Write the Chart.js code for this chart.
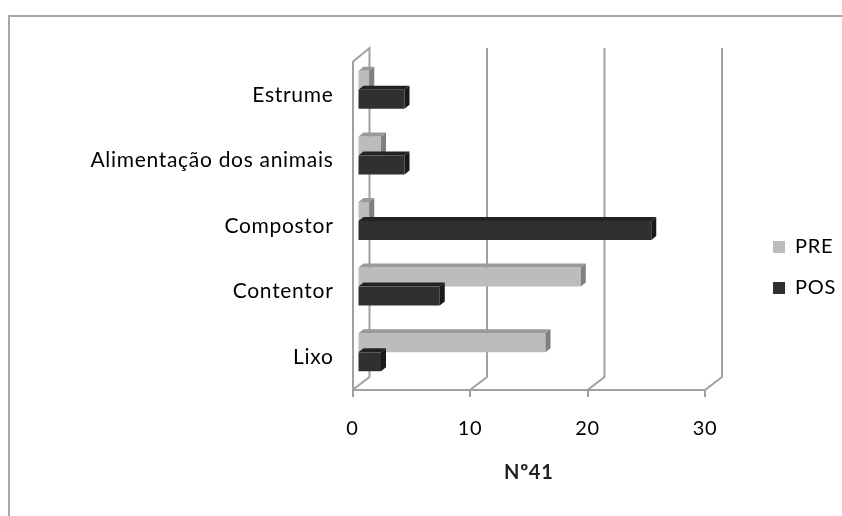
<!DOCTYPE html>
<html>
<head>
<meta charset="utf-8">
<style>
  html, body { margin: 0; padding: 0; background: #fff; }
  canvas { display: block; filter: blur(0.4px); }
</style>
<script src="https://cdn.jsdelivr.net/npm/chart.js@4"></script>
</head>
<body>
<canvas id="chart" width="842" height="516"></canvas>
<script>
const categories = ['Estrume', 'Alimentação dos animais', 'Compostor', 'Contentor', 'Lixo'];
const preValues = [1, 2, 1, 19, 16];
const posValues = [4, 4, 25, 7, 2];
const axisTitle = 'Nº41';

const lineGrey = '#a0a0a0';
const depthX = 17, depthY = 13;   // wall depth
const barDX = 5, barDY = -5;      // bars sit a little inside the walls
const faceX = 5, faceY = 4;       // bar top and end faces

const faces = [
  { top: '#9a9a9a', side: '#7f7f7f' },
  { top: '#222222', side: '#1a1a1a' }
];

const fake3d = {
  id: 'fake3d',
  afterLayout(chart) {
    // legend sits right of the plot, lower than centre
    const lg = chart.legend;
    lg.left = 752; lg.right = 842;
    lg.top = 216; lg.bottom = 340;
  },
  beforeDraw(chart) {
    // picture frame
    const c = chart.ctx;
    c.letterSpacing = '0.7px';   // reference text is a bit widely spaced
    c.save();
    c.strokeStyle = '#a8a8a8';
    c.lineWidth = 2;
    c.beginPath();
    c.moveTo(9, 516); c.lineTo(9, 16); c.lineTo(842, 16);
    c.stroke();
    c.restore();
  },
  beforeDatasetsDraw(chart) {
    const c = chart.ctx, xs = chart.scales.x, a = chart.chartArea;
    c.save();
    c.strokeStyle = lineGrey;
    c.lineWidth = 2;
    xs.ticks.forEach((t, i) => {
      const x = xs.getPixelForValue(t.value);
      c.beginPath();
      c.moveTo(x, a.bottom);
      c.lineTo(x + depthX, a.bottom - depthY);
      c.lineTo(x + depthX, a.top - depthY - 1);
      if (i === 0) c.lineTo(x, a.top);
      c.stroke();
    });
    c.restore();
    c.save();
    c.translate(barDX, barDY);
  },
  afterDatasetsDraw(chart) {
    const c = chart.ctx;
    [0, 1].forEach(d => {
      chart.getDatasetMeta(d).data.forEach(bar => {
        const top = bar.y - bar.height / 2, bottom = bar.y + bar.height / 2;
        c.fillStyle = faces[d].top;
        c.beginPath();
        c.moveTo(bar.base, top);
        c.lineTo(bar.base + faceX, top - faceY);
        c.lineTo(bar.x + faceX, top - faceY);
        c.lineTo(bar.x, top);
        c.closePath();
        c.fill();
        c.fillStyle = faces[d].side;
        c.beginPath();
        c.moveTo(bar.x, top);
        c.lineTo(bar.x + faceX, top - faceY);
        c.lineTo(bar.x + faceX, bottom - faceY);
        c.lineTo(bar.x, bottom);
        c.closePath();
        c.fill();
      });
    });
    c.restore();
  }
};

new Chart(document.getElementById('chart'), {
  type: 'bar',
  data: {
    labels: categories,
    datasets: [
      { label: 'PRE', data: preValues, backgroundColor: '#bcbcbc', clip: false },
      { label: 'POS', data: posValues, backgroundColor: '#303030', clip: false }
    ]
  },
  options: {
    indexAxis: 'y',
    responsive: false,
    animation: false,
    categoryPercentage: 0.58,
    barPercentage: 1,
    layout: { padding: { top: 62, right: 137, bottom: 31, left: 0 } },
    plugins: {
      tooltip: { enabled: false },
      legend: {
        position: 'chartArea',
        align: 'start',
        labels: {
          boxWidth: 12, boxHeight: 12, padding: 21,
          color: '#000',
          font: { family: 'Lato', size: 20 }
        }
      }
    },
    scales: {
      x: {
        min: 0, max: 30,
        afterFit: s => { s.height = 95; },
        grid: { drawOnChartArea: false, color: lineGrey, lineWidth: 2, tickLength: 7 },
        border: { color: lineGrey, width: 2 },
        ticks: { stepSize: 10, padding: 20, color: '#000', maxRotation: 0, font: { family: 'Lato', size: 20 } },
        title: { display: true, text: axisTitle, color: '#222', padding: { top: 16, bottom: 0 }, font: { family: 'Lato', size: 20, weight: 'bold' } }
      },
      y: {
        afterFit: s => { s.width = 352.5; },
        grid: { drawOnChartArea: false, drawTicks: false },
        border: { color: lineGrey, width: 2 },
        ticks: { padding: 19, color: '#000', font: { family: 'Lato', size: 21 } }
      }
    }
  },
  plugins: [fake3d]
});
</script>
</body>
</html>
